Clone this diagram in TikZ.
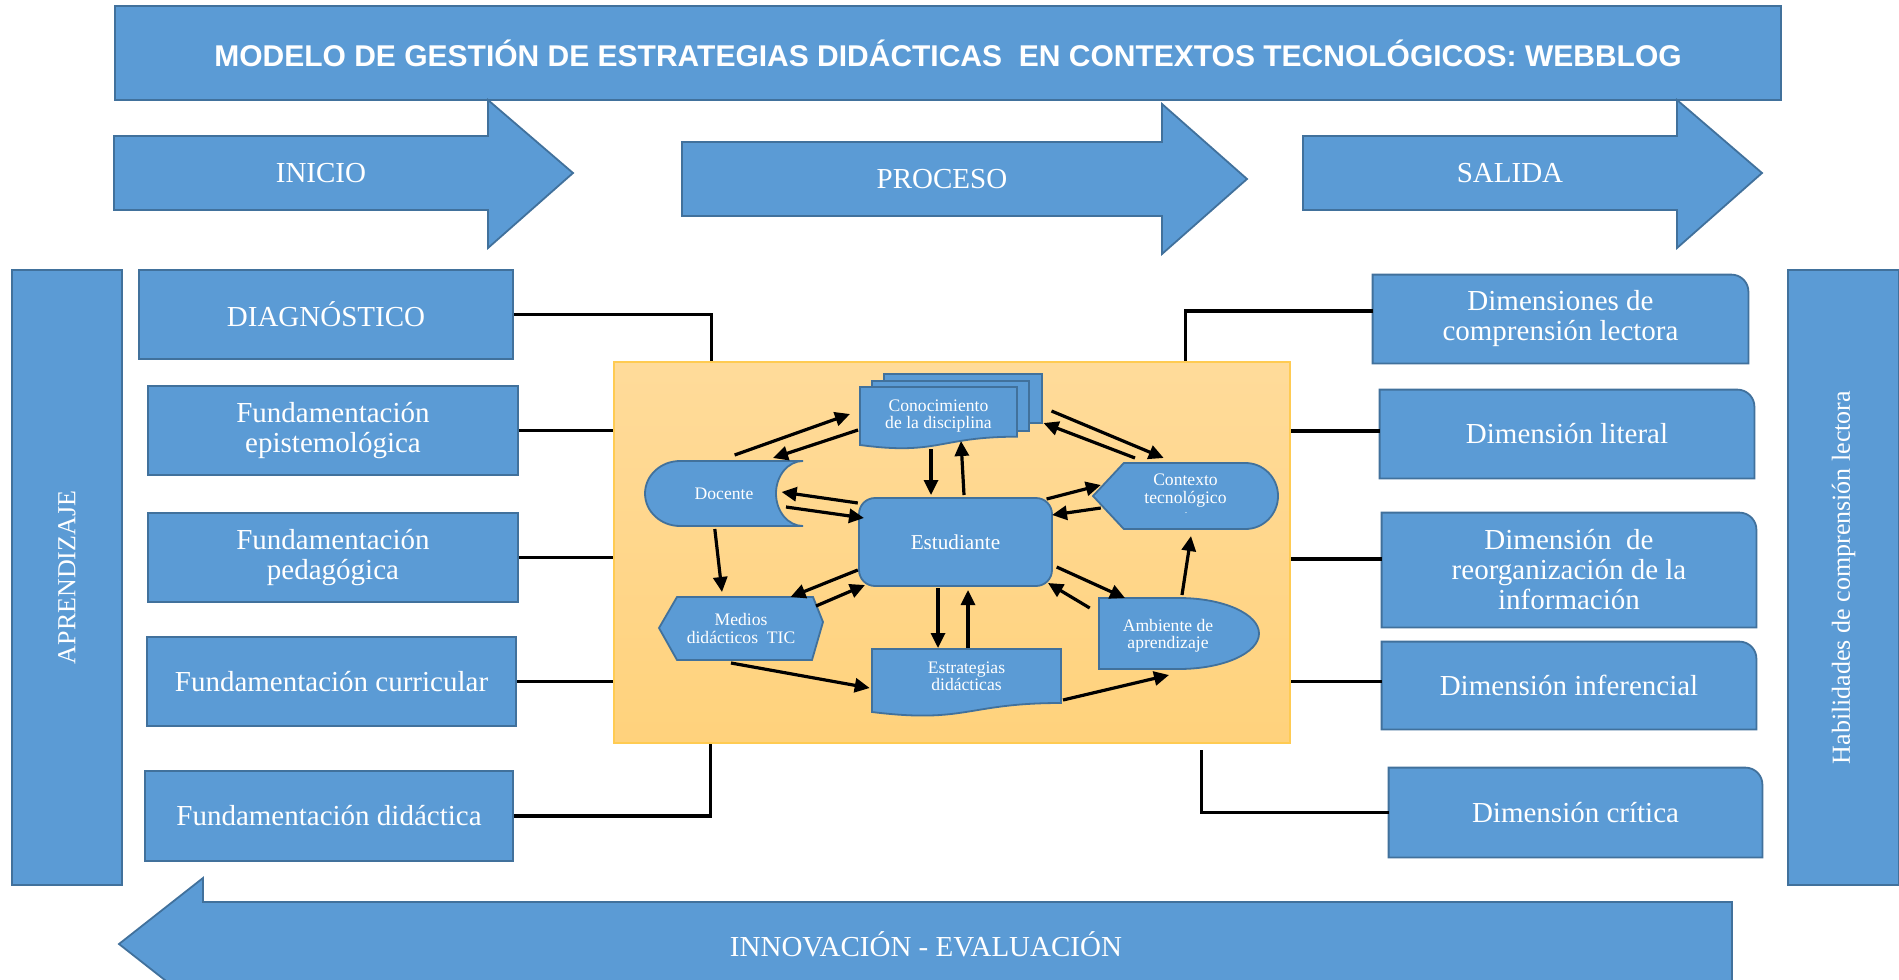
\documentclass[tikz,border=0pt]{standalone}
\usepackage{fontspec}
\setmainfont{Liberation Serif}
\newfontfamily\titlefont{Liberation Sans}
\usetikzlibrary{arrows.meta,calc}
\definecolor{bfill}{HTML}{5B9BD5}
\definecolor{bdraw}{HTML}{41719C}
\definecolor{ytop}{HTML}{FFDB9A}
\definecolor{ybot}{HTML}{FFD27C}
\definecolor{ydraw}{HTML}{FFCB52}
\newcommand\bigtext{\fontsize{14.5}{15}\selectfont}
\newcommand\sidetext{\fontsize{13}{14}\selectfont}
\newcommand\smalltext{\fontsize{8.8}{8.6}\selectfont}
\newcommand\midtext{\fontsize{10.6}{11}\selectfont}
\newcommand\titletext{\titlefont\bfseries\fontsize{15}{16}\selectfont}
\newcommand\rbox[1]{\draw[bluebox] (#1.south west) -- (#1.north west) -- ([xshift=-8.5pt]#1.north east) arc[start angle=90,end angle=0,radius=8.5pt] -- (#1.south east) -- cycle;}
\pgfdeclarelayer{back}
\pgfdeclarelayer{mid}
\pgfsetlayers{back,mid,main}
\tikzset{
  wh/.style 2 args={minimum width=#1*0.5pt, minimum height=#2*0.5pt},
  bluebox/.style={fill=bfill, draw=bdraw, line width=0.9pt},
  boxnode/.style={bluebox, text=white, align=center, inner sep=0pt, font=\bigtext},
  lbl/.style={text=white, align=center, inner sep=0pt},
  conn/.style={line width=1.6pt, black},
  arr/.style={line width=1.6pt, black, -{Triangle[length=7.5pt,width=7pt]}},
}
\begin{document}
\begin{tikzpicture}[x=0.5pt,y=-0.5pt]
\clip (0,0) rectangle (1899,979);
\begin{pgfonlayer}{back}
\fill[white] (0,0) rectangle (1899,979);
\end{pgfonlayer}

% title
\node[boxnode, wh={1666}{94}, font=\titletext] (title) at (948,53) {MODELO DE GESTIÓN DE ESTRATEGIAS DIDÁCTICAS~ EN CONTEXTOS TECNOLÓGICOS: WEBBLOG};

% phase arrows
\draw[bluebox] (114,136) -- (488,136) -- (488,100) -- (573,173) -- (488,248) -- (488,210) -- (114,210) -- cycle;
\node[lbl, font=\bigtext] (inicio) at (321,173) {INICIO};
\draw[bluebox] (682,142) -- (1162,142) -- (1162,104) -- (1247,179) -- (1162,254) -- (1162,216) -- (682,216) -- cycle;
\node[lbl, font=\bigtext] (proceso) at (942,179) {PROCESO};
\draw[bluebox] (1303,136) -- (1677,136) -- (1677,100) -- (1762,173) -- (1677,248) -- (1677,210) -- (1303,210) -- cycle;
\node[lbl, font=\bigtext] (salida) at (1510,173) {SALIDA};

% bottom arrow
\draw[bluebox] (119,944) -- (203,878) -- (203,902) -- (1732,902) -- (1732,986) -- (203,986) -- (203,1010) -- cycle;
\node[lbl, font=\bigtext] (innov) at (926,944) {INNOVACIÓN - EVALUACIÓN};

% side columns
\node[boxnode, rotate=90, wh={615}{110}, font=\sidetext] (apr) at (67,577.5) {APRENDIZAJE};
\node[boxnode, rotate=90, wh={615}{111}, font=\sidetext] (hab) at (1843.5,577.5) {Habilidades de comprensión lectora};

% left boxes
\node[boxnode, wh={374}{89}] (diag) at (326,314.5) {DIAGNÓSTICO};
\node[boxnode, wh={370}{89}] (epi) at (333,430.5) {Fundamentación\\epistemológica};
\node[boxnode, wh={370}{89}] (ped) at (333,557.5) {Fundamentación\\pedagógica};
\node[boxnode, wh={369}{89}] (cur) at (331.5,681.5) {Fundamentación curricular};
\node[boxnode, wh={368}{90}] (did) at (329,816) {Fundamentación didáctica};

% right boxes
\node[lbl, font=\bigtext, wh={375}{88}] (dcl) at (1560.5,319) {Dimensiones de\\comprensión lectora};
\node[lbl, font=\bigtext, wh={374}{88}] (dlit) at (1567,434) {Dimensión literal};
\node[lbl, font=\bigtext, wh={374}{114}] (dreo) at (1569,570) {Dimensión~ de\\reorganización de la\\información};
\node[lbl, font=\bigtext, wh={374}{87}] (dinf) at (1569,685.5) {Dimensión inferencial};
\node[lbl, font=\bigtext, wh={373}{89}] (dcri) at (1575.5,812.5) {Dimensión crítica};
\begin{pgfonlayer}{mid}
\rbox{dcl}\rbox{dlit}\rbox{dreo}\rbox{dinf}\rbox{dcri}
\end{pgfonlayer}

% yellow panel
\begin{pgfonlayer}{back}
\node[wh={676}{381}, top color=ytop, bottom color=ybot, draw=ydraw, line width=0.8pt, inner sep=0pt] (yel) at (952,552.5) {};
\end{pgfonlayer}

% connectors
\draw[conn] (diag.east) -| ([xshift=49pt]yel.north west);
\draw[conn] (epi.east) -- (epi.east -| yel.west);
\draw[conn] (ped.east) -- (ped.east -| yel.west);
\draw[conn] (cur.east) -- (cur.east -| yel.west);
\draw[conn] (did.east) -| ([xshift=48.5pt]yel.south west);
\draw[conn] ([yshift=4pt]dcl.west) -| ([xshift=-52.5pt]yel.north east);
\draw[conn] ([yshift=1.5pt]dlit.west) -- ([yshift=1.5pt]dlit.west -| yel.east);
\draw[conn] ([yshift=5.5pt]dreo.west) -- ([yshift=5.5pt]dreo.west -| yel.east);
\draw[conn] ([yshift=2pt]dinf.west) -- ([yshift=2pt]dinf.west -| yel.east);
\draw[conn] (dcri.west) -| ([xshift=-44.5pt,yshift=-3pt]yel.south east);

% central shapes
\begin{pgfonlayer}{mid}
\draw[bluebox] (884,374) rectangle (1042,423);
\draw[bluebox] (872,381) rectangle (1029,431);
\draw[bluebox] (860,387) -- (1017,387) -- (1017,436.7) .. controls (938.5,436.7) and (938.5,455.6) .. (860,445) -- cycle;
\draw[bluebox] (680,461) -- (803,461) arc[start angle=90,end angle=270,x radius=13.5pt,y radius=16.25pt] -- (680,526) arc[start angle=270,end angle=90,x radius=17.5pt,y radius=16.25pt] -- cycle;
\draw[bluebox] (1093,496) -- (1123.8,463) -- (1245.5,463) arc[start angle=90,end angle=-90,x radius=16.25pt,y radius=16.5pt] -- (1123.8,529) -- cycle;
\draw[bluebox] (659,628) -- (677,597) -- (813,597) -- (823,622) -- (812,660) -- (677,660) -- cycle;
\draw[bluebox] (872,649) -- (1061,649) -- (1061,703) .. controls (966.5,703) and (966.5,723.7) .. (872,712) -- cycle;
\draw[bluebox] (1099,598) -- (1179,598) arc[start angle=90,end angle=-90,x radius=40pt,y radius=17.75pt] -- (1099,669) -- cycle;
\end{pgfonlayer}

\node[lbl, font=\smalltext] (con) at (938.5,416) {Conocimiento\\de la disciplina};
\node[lbl, font=\smalltext] (doc) at (724,493.5) {Docente};
\node[bluebox, rounded corners=8pt, wh={193}{88}, text=white, inner sep=0pt, font=\midtext] (est) at (955.5,542) {Estudiante};
\node[lbl, font=\smalltext] (ctx) at (1185.5,490.5) {Contexto\\tecnológico};
\node[lbl, font=\fontsize{5}{6}\selectfont] (ctxdot) at (1186,513) {.};
\node[lbl, font=\smalltext] (med) at (741,628.5) {Medios\\didácticos~ TIC};
\node[lbl, font=\smalltext] (estr) at (966.5,676.5) {Estrategias\\didácticas};
\node[lbl, font=\smalltext] (amb) at (1168,636) {Ambiente de\\aprendizaje};

% arrows
\draw[arr] ([shift={(10.6,-38.5)}]doc.center) -- ([shift={(-88.5,-2)}]con.center);
\draw[arr] ([shift={(-80.5,14)}]con.center) -- ([shift={(49,-35.5)}]doc.center);
\draw[arr] ([shift={(-7.5,33)}]con.center) -- ([shift={(-24.5,-47)}]est.center);
\draw[arr] ([shift={(8.5,-47)}]est.center) -- ([shift={(22.5,25)}]con.center);
\draw[arr] ([shift={(113,-5)}]con.center) -- ([shift={(-21.8,-32.5)}]ctx.center);
\draw[arr] ([shift={(-50.5,-32.5)}]ctx.center) -- ([shift={(105,7)}]con.center);
\draw[arr] ([shift={(-97.7,-39)}]est.center) -- ([shift={(57.6,-1.5)}]doc.center);
\draw[arr] ([shift={(62,13.5)}]doc.center) -- ([shift={(-91.5,-24)}]est.center);
\draw[arr] ([shift={(91.1,-43)}]est.center) -- ([shift={(-84.7,-5.5)}]ctx.center);
\draw[arr] ([shift={(-84.7,17.5)}]ctx.center) -- ([shift={(96.5,-27)}]est.center);
\draw[arr] ([shift={(-9.2,35.5)}]doc.center) -- ([shift={(-19,-36.5)}]med.center);
\draw[arr] ([shift={(-97.7,28)}]est.center) -- ([shift={(49.5,-31.5)}]med.center);
\draw[arr] ([shift={(75,-22.5)}]med.center) -- ([shift={(-90.5,43)}]est.center);
\draw[arr] ([shift={(-17.5,46)}]est.center) -- ([shift={(-28.5,-28.5)}]estr.center);
\draw[arr] ([shift={(1.5,-28.5)}]estr.center) -- ([shift={(12.5,48)}]est.center);
\draw[arr] ([shift={(101.2,25)}]est.center) -- ([shift={(-43,-38)}]amb.center);
\draw[arr] ([shift={(-78.3,-28)}]amb.center) -- ([shift={(92.5,41)}]est.center);
\draw[arr] ([shift={(14,-41)}]amb.center) -- ([shift={(5.5,45.5)}]ctx.center);
\draw[arr] ([shift={(-10,34.5)}]med.center) -- ([shift={(-96.8,11.5)}]estr.center);
\draw[arr] ([shift={(96.5,23.5)}]estr.center) -- ([shift={(1,39)}]amb.center);
\end{tikzpicture}
\end{document}
